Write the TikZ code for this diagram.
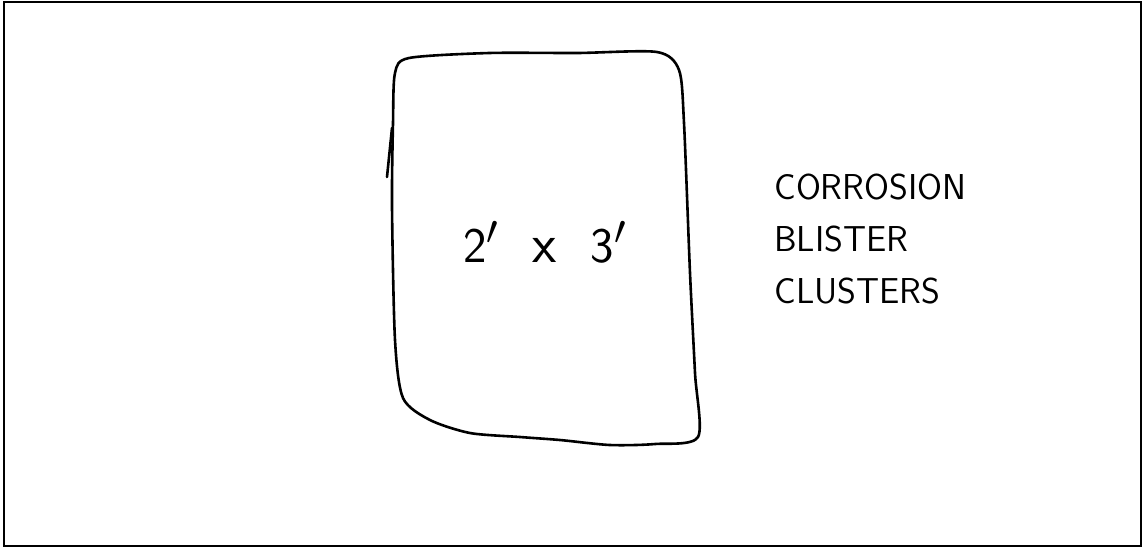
\documentclass[tikz,border=0pt]{standalone}
\usepackage{amsmath}
\usepackage{tikz}
\usetikzlibrary{positioning}

\begin{document}
\begin{tikzpicture}[
    x=0.5pt,
    y=-0.5pt,
    sketch/.style={
        line width=1.3pt,
        line join=round,
        line cap=round
    },
    every node/.style={
        inner sep=0pt,
        font=\sffamily
    }
]
\useasboundingbox (0,0) rectangle (1144,548);

% frame
\draw[line width=1.2pt] (4,2) rectangle (1141,546);
% panel
\draw[sketch] plot[smooth cycle, tension=0.45] coordinates {
    (395,73) (409,58) (489,53) (577,53) (657,52) (679,70) (684,123)
    (690,273) (695,373) (698,437) (655,444) (610,445) (560,440)
    (520,437) (470,433) (430,420) (403,398) (395,340) (392,207) (393,123)};
\draw[sketch] (387,177) -- (392,128);
% labels
\node[font=\sffamily\fontsize{28}{30}\selectfont] (dims) at (545,242)
    {$\mathsf{2}'$\hspace{0.6em}x\hspace{0.6em}$\mathsf{3}'$};
\node[anchor=north west, align=left, font=\sffamily\fontsize{18}{26}\selectfont] (note) at (774,174)
    {CORROSION\\BLISTER\\CLUSTERS};
\end{tikzpicture}
\end{document}
